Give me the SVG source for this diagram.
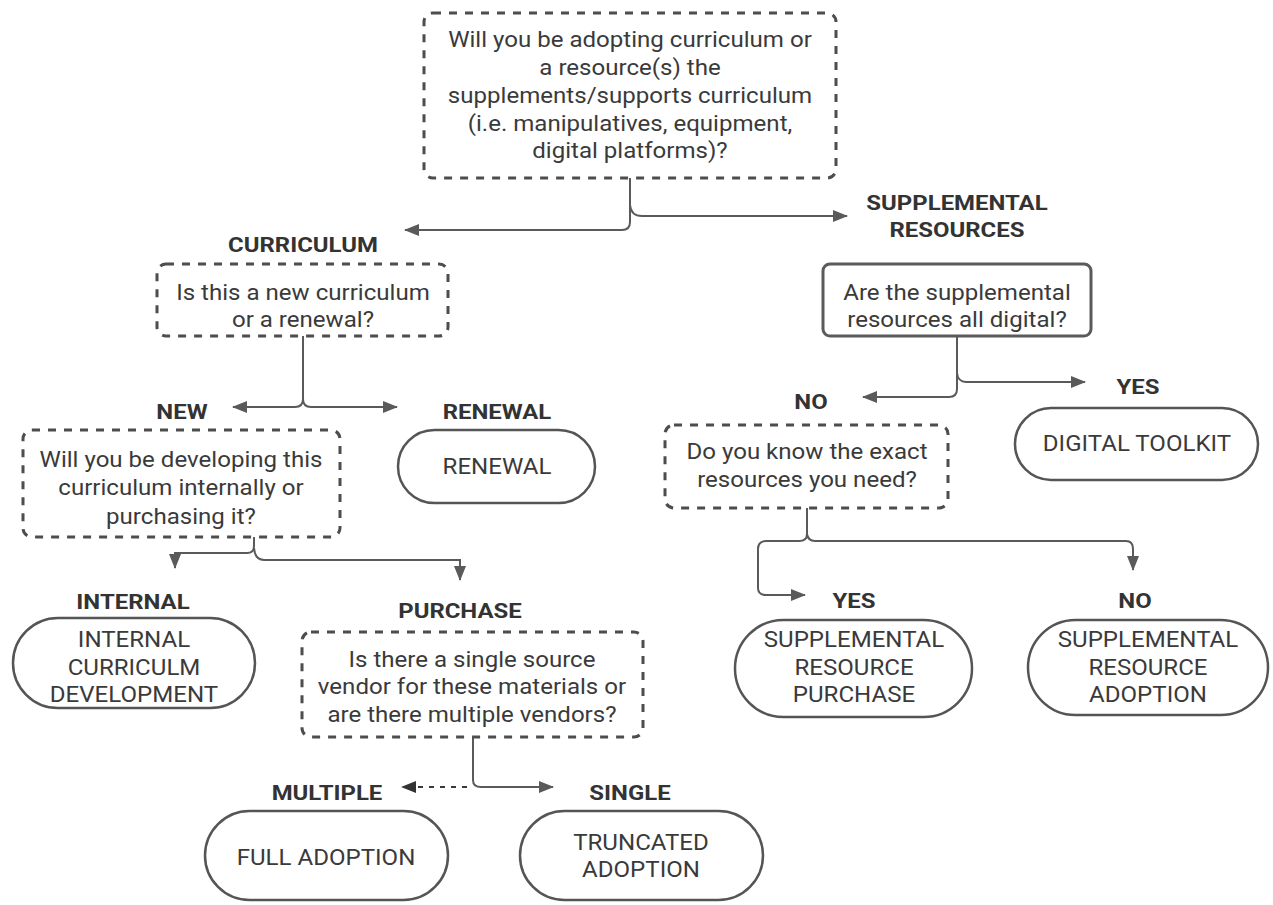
<svg xmlns="http://www.w3.org/2000/svg" width="1273" height="905" viewBox="0 0 1273 905">
  <style>
    .q { fill: #ffffff; stroke: #4d4d4d; stroke-width: 3; stroke-dasharray: 8 8; }
    .qs { fill: #ffffff; stroke: #5a5a5a; stroke-width: 3; }
    .end { fill: #ffffff; stroke: #555555; stroke-width: 2.5; }
    .t { font-family: Roboto, "Liberation Sans", sans-serif; font-size: 21.5px; fill: #3a3a3a; text-anchor: middle;
         transform-box: fill-box; transform-origin: center; transform: scaleX(1.12); }
    .lbl { font-family: Roboto, "Liberation Sans", sans-serif; font-size: 21px; font-weight: 700; fill: #333333; text-anchor: middle;
           transform-box: fill-box; transform-origin: center; transform: scaleX(1.14); }
    .c { fill: none; stroke: #5a5a5a; stroke-width: 2; }
    .dot { fill: none; stroke: #3a3a3a; stroke-width: 2; stroke-dasharray: 5 6; }
  </style>
  <defs>
    <marker id="arr" markerUnits="userSpaceOnUse" viewBox="0 0 15 12" refX="14" refY="6" markerWidth="15" markerHeight="12" orient="auto">
      <path d="M0,0 L15,6 L0,12 z" fill="#5a5a5a"/>
    </marker>
    <marker id="arrd" markerUnits="userSpaceOnUse" viewBox="0 0 15 12" refX="14" refY="6" markerWidth="15" markerHeight="12" orient="auto">
      <path d="M0,0 L15,6 L0,12 z" fill="#333333"/>
    </marker>
  </defs>

  <!-- connectors -->
  <g id="connectors">
    <path class="c" d="M630,178 V222 Q630,230 622,230 H405" marker-end="url(#arr)"/>
    <path class="c" d="M630,205 Q631,216 642,216 H847" marker-end="url(#arr)"/>
    <path class="c" d="M303,336 V399 Q303,407 295,407 H233" marker-end="url(#arr)"/>
    <path class="c" d="M303,399 Q303,407 311,407 H397" marker-end="url(#arr)"/>
    <path class="c" d="M254,537 V546 Q254,553 247,553 H175 V568" marker-end="url(#arr)"/>
    <path class="c" d="M254,548 Q255,560 264,560 H460 V580" marker-end="url(#arr)"/>
    <path class="c" d="M473,737 V780 Q473,787 481,787 H553" marker-end="url(#arr)"/>
    <path class="dot" d="M467,787 H402" marker-end="url(#arrd)"/>
    <path class="c" d="M957,336 V389 Q957,397 949,397 H863" marker-end="url(#arr)"/>
    <path class="c" d="M957,373 Q958,382 966,382 H1085" marker-end="url(#arr)"/>
    <path class="c" d="M807,508 V534 Q807,541 799,541 H766 Q758,541 758,549 V588 Q758,595 766,595 H805" marker-end="url(#arr)"/>
    <path class="c" d="M807,534 Q808,541 815,541 H1126 Q1133,541 1133,549 V570" marker-end="url(#arr)"/>
  </g>

  <!-- branch labels -->
  <g id="labels">
    <text class="lbl" x="303" y="252">CURRICULUM</text>
    <text class="lbl" x="957" y="210">SUPPLEMENTAL</text>
    <text class="lbl" x="957" y="237">RESOURCES</text>
    <text class="lbl" x="182" y="419">NEW</text>
    <text class="lbl" x="497" y="419">RENEWAL</text>
    <text class="lbl" x="133" y="609">INTERNAL</text>
    <text class="lbl" x="460" y="618">PURCHASE</text>
    <text class="lbl" x="327" y="800">MULTIPLE</text>
    <text class="lbl" x="630" y="800">SINGLE</text>
    <text class="lbl" x="811" y="409">NO</text>
    <text class="lbl" x="1138" y="394">YES</text>
    <text class="lbl" x="854" y="608">YES</text>
    <text class="lbl" x="1135" y="608">NO</text>
  </g>

  <g id="q-adopt">
    <rect class="q" x="424" y="13" width="412" height="165" rx="9"/>
    <text class="t" x="630" y="47">Will you be adopting curriculum or</text>
    <text class="t" x="630" y="75">a resource(s) the</text>
    <text class="t" x="630" y="103">supplements/supports curriculum</text>
    <text class="t" x="630" y="131">(i.e. manipulatives, equipment,</text>
    <text class="t" x="630" y="158">digital platforms)?</text>
  </g>

  <g id="q-new-renewal">
    <rect class="q" x="157" y="264" width="291" height="72" rx="9"/>
    <text class="t" x="303" y="300">Is this a new curriculum</text>
    <text class="t" x="303" y="327">or a renewal?</text>
  </g>

  <g id="renewal">
    <rect class="end" x="398" y="430" width="197" height="73" rx="36.5"/>
    <text class="t" x="497" y="474">RENEWAL</text>
  </g>

  <g id="q-develop">
    <rect class="q" x="23" y="430" width="317" height="107" rx="9"/>
    <text class="t" x="181" y="467">Will you be developing this</text>
    <text class="t" x="181" y="495">curriculum internally or</text>
    <text class="t" x="181" y="524">purchasing it?</text>
  </g>

  <g id="internal">
    <rect class="end" x="13" y="618" width="242" height="90" rx="45"/>
    <text class="t" x="134" y="647">INTERNAL</text>
    <text class="t" x="134" y="675">CURRICULM</text>
    <text class="t" x="134" y="702">DEVELOPMENT</text>
  </g>

  <g id="q-vendor">
    <rect class="q" x="302" y="632" width="341" height="105" rx="9"/>
    <text class="t" x="472" y="667">Is there a single source</text>
    <text class="t" x="472" y="694">vendor for these materials or</text>
    <text class="t" x="472" y="722">are there multiple vendors?</text>
  </g>

  <g id="full-adoption">
    <rect class="end" x="205" y="811" width="243" height="89" rx="44.5"/>
    <text class="t" x="326" y="865">FULL ADOPTION</text>
  </g>

  <g id="truncated-adoption">
    <rect class="end" x="520" y="811" width="243" height="89" rx="44.5"/>
    <text class="t" x="641" y="850">TRUNCATED</text>
    <text class="t" x="641" y="877">ADOPTION</text>
  </g>

  <g id="q-digital">
    <rect class="qs" x="823" y="264" width="268" height="72" rx="7"/>
    <text class="t" x="957" y="300">Are the supplemental</text>
    <text class="t" x="957" y="327">resources all digital?</text>
  </g>

  <g id="digital-toolkit">
    <rect class="end" x="1015" y="408" width="243" height="72" rx="36"/>
    <text class="t" x="1137" y="451">DIGITAL TOOLKIT</text>
  </g>

  <g id="q-exact">
    <rect class="q" x="665" y="425" width="283" height="83" rx="9"/>
    <text class="t" x="807" y="459">Do you know the exact</text>
    <text class="t" x="807" y="487">resources you need?</text>
  </g>

  <g id="supplemental-purchase">
    <rect class="end" x="735" y="620" width="237" height="97" rx="48.5"/>
    <text class="t" x="854" y="647">SUPPLEMENTAL</text>
    <text class="t" x="854" y="675">RESOURCE</text>
    <text class="t" x="854" y="702">PURCHASE</text>
  </g>

  <g id="supplemental-adoption">
    <rect class="end" x="1028" y="620" width="240" height="95" rx="47.5"/>
    <text class="t" x="1148" y="647">SUPPLEMENTAL</text>
    <text class="t" x="1148" y="675">RESOURCE</text>
    <text class="t" x="1148" y="702">ADOPTION</text>
  </g>
</svg>
